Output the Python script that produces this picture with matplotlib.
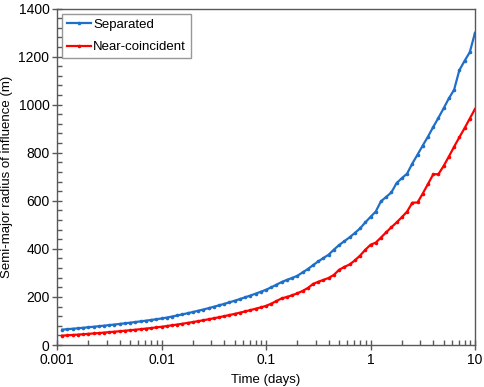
import matplotlib
matplotlib.use("Agg")
import matplotlib.pyplot as plt
from matplotlib.ticker import MultipleLocator, LogLocator, NullFormatter, FixedLocator, FixedFormatter

time_days = [
    0.001122, 0.001259, 0.001413, 0.001585, 0.001778, 0.001995, 0.002239, 0.002512, 0.002818, 0.003162,
    0.003548, 0.003981, 0.004467, 0.005012, 0.005623, 0.006310, 0.007079, 0.007943, 0.008913, 0.01,
    0.01122, 0.01259, 0.01413, 0.01585, 0.01778, 0.01995, 0.02239, 0.02512, 0.02818, 0.03162,
    0.03548, 0.03981, 0.04467, 0.05012, 0.05623, 0.06310, 0.07079, 0.07943, 0.08913, 0.1,
    0.1122, 0.1259, 0.1413, 0.1585, 0.1778, 0.1995, 0.2239, 0.2512, 0.2818, 0.3162,
    0.3548, 0.3981, 0.4467, 0.5012, 0.5623, 0.6310, 0.7079, 0.7943, 0.8913, 1.0,
    1.122, 1.259, 1.413, 1.585, 1.778, 1.995, 2.239, 2.512, 2.818, 3.162,
    3.548, 3.981, 4.467, 5.012, 5.623, 6.310, 7.079, 7.943, 8.913, 10.0,
]

separated = [
    64.0, 65.9, 67.8, 69.7, 71.8, 73.9, 76.0, 78.2, 80.5, 82.8,
    85.2, 87.7, 90.3, 92.9, 95.6, 98.4, 101.2, 104.2, 107.2, 110.3,
    114.1, 118.4, 122.9, 127.5, 132.3, 137.2, 142.4, 147.7, 153.2, 159.0,
    165.0, 171.1, 177.6, 184.2, 191.2, 198.3, 205.8, 213.5, 221.5, 229.8,
    240, 251, 262, 271, 279, 288, 302, 316, 332, 348,
    362, 376, 397, 416, 432, 448, 466, 485, 510, 533,
    555, 598, 616, 635, 674, 694, 713, 755, 792, 830,
    867, 907, 945, 985, 1026, 1062, 1143, 1182, 1218, 1299,
]

near_coincident = [
    39.0, 40.4, 41.8, 43.3, 44.9, 46.5, 48.1, 49.8, 51.6, 53.5,
    55.4, 57.3, 59.4, 61.5, 63.7, 65.9, 68.3, 70.7, 73.2, 75.8,
    78.9, 82.0, 85.2, 88.5, 91.9, 95.5, 99.2, 103.0, 107.0, 111.2,
    115.5, 120.0, 124.7, 129.5, 134.5, 139.7, 145.2, 150.8, 156.7, 162.7,
    172, 183, 194, 200, 207, 215, 225, 237, 254, 263,
    271, 279, 292, 313, 325, 335, 352, 372, 396, 417,
    426, 447, 469, 490, 510, 532, 555, 592, 593, 630,
    670, 710, 711, 745, 784, 825, 864, 902, 942, 982,
]

x_ticks = [0.001, 0.01, 0.1, 1, 10]
x_tick_labels = ["0.001", "0.01", "0.1", "1", "10"]

plt.rcParams['font.family'] = ['Liberation Sans', 'DejaVu Sans']

fig = plt.figure(figsize=(4.84, 3.87), dpi=100)
ax = fig.add_axes([0.1178, 0.1085, 0.8636, 0.8695])

blue = '#1f6fc8'
red = '#ff0000'
ax.plot(time_days, separated, color=blue, lw=1.6, marker='o', ms=2.6, mew=0, label='Separated')
ax.plot(time_days, near_coincident, color=red, lw=1.6, marker='o', ms=2.6, mew=0, label='Near-coincident')

ax.set_xscale('log')
ax.set_xlim(0.001, 10)
ax.set_ylim(0, 1400)
ax.xaxis.set_major_locator(FixedLocator(x_ticks))
ax.xaxis.set_major_formatter(FixedFormatter(x_tick_labels))
ax.xaxis.set_minor_locator(LogLocator(base=10, subs=range(2, 10)))
ax.xaxis.set_minor_formatter(NullFormatter())
ax.yaxis.set_major_locator(MultipleLocator(200))
ax.yaxis.set_minor_locator(MultipleLocator(40))

for s in ax.spines.values():
    s.set_color('#595959')
    s.set_linewidth(1.0)

ax.tick_params(which='major', direction='inout', length=7, width=1, color='#595959',
               labelsize=10, labelcolor='black', top=False, right=False, pad=2)
ax.tick_params(which='minor', direction='in', length=3.5, width=1, color='#595959',
               top=False, right=False)

ax.set_xlabel('Time (days)', fontsize=9.5, labelpad=5)
ax.set_ylabel('Semi-major radius of influence (m)', fontsize=9.5, labelpad=4)

leg = ax.legend(loc='upper left', fontsize=9.5, frameon=True, fancybox=False,
                edgecolor='#7f7f7f', handlelength=1.8, handletextpad=0.15,
                borderpad=0.4, labelspacing=0.75, borderaxespad=0,
                bbox_to_anchor=(0.012, 0.985))
leg.get_frame().set_linewidth(1.0)

fig.savefig('out.png', dpi=100)
